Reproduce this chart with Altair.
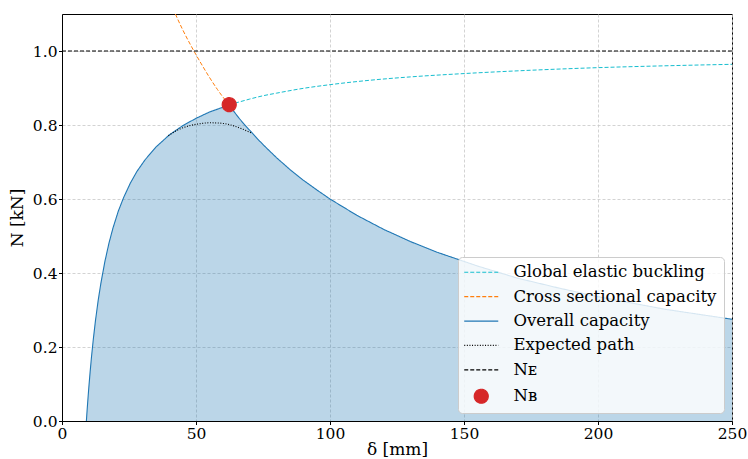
import altair as alt
import pandas as pd

# ---- values ----
series_names = ["Global elastic buckling", "Cross sectional capacity", "Overall capacity",
                "Expected path", "Nᴇ", "Nʙ"]

glob_d = [62.4, 66, 70, 75, 80, 90, 100, 115, 130, 150, 175, 200, 225, 250]
glob_n = [0.855, 0.862, 0.870, 0.879, 0.886, 0.899, 0.909, 0.921, 0.930, 0.939, 0.948, 0.955, 0.960, 0.964]

cross_d = [42.3, 45, 48, 50, 52, 55, 58, 60, 62.4]
cross_n = [1.100, 1.058, 1.016, 0.990, 0.965, 0.929, 0.896, 0.876, 0.855]

over_d = [9.1, 9.3, 9.6, 10, 10.5, 11, 11.7, 12.5, 13.5, 14.5, 16, 17.5, 19, 21, 23, 25.5, 28, 31,
          35, 40, 45, 50, 55, 60, 62.4, 64, 66, 68, 70, 73, 76, 80, 85, 90, 95, 100, 110, 120,
          130, 140, 155, 170, 185, 200, 225, 250]
over_n = [0.0, 0.022, 0.052, 0.090, 0.133, 0.173, 0.222, 0.272, 0.326, 0.372, 0.431, 0.480, 0.521,
          0.567, 0.604, 0.643, 0.675, 0.706, 0.740, 0.773, 0.798, 0.818, 0.835, 0.848, 0.855,
          0.838, 0.819, 0.802, 0.786, 0.762, 0.740, 0.712, 0.680, 0.651, 0.625, 0.600, 0.556,
          0.518, 0.485, 0.456, 0.419, 0.386, 0.360, 0.336, 0.302, 0.275]

exp_d = [39.7, 43, 47, 51, 55, 59, 63, 67, 70.8]
exp_n = [0.771, 0.786, 0.797, 0.803, 0.806, 0.805, 0.800, 0.790, 0.778]

ne_d = [0, 250]
ne_n = [1.0, 1.0]

nb_d = [62.4]
nb_n = [0.855]

x_ticks = [0, 50, 100, 150, 200, 250]
y_ticks = [0.0, 0.2, 0.4, 0.6, 0.8, 1.0]

colors = ["#17becf", "#ff7f0e", "#1f77b4", "#000000", "#000000", "#d62728"]
dashes = [[4, 2], [4, 2], [1, 0], [1, 1.6], [4, 2], [1, 0]]
widths = [1, 1, 1.1, 1.1, 1, 1]
line_sym = "M-2.43,0H2.43"
shapes = [line_sym, line_sym, line_sym, line_sym, line_sym, "circle"]


def frame(d, n, name):
    return pd.DataFrame({"delta": d, "N": n, "series": name})


frames = [
    frame(glob_d, glob_n, series_names[0]),
    frame(cross_d, cross_n, series_names[1]),
    frame(over_d, over_n, series_names[2]),
    frame(exp_d, exp_n, series_names[3]),
    frame(ne_d, ne_n, series_names[4]),
]
nb_df = frame(nb_d, nb_n, series_names[5])

FONT = "DejaVu Serif"

xs = alt.Scale(domain=[0, 250], nice=False)
ys = alt.Scale(domain=[0, 1.1], nice=False)
X = alt.X("delta:Q", scale=xs,
          axis=alt.Axis(values=x_ticks, format="d", title="δ [mm]"))
Y = alt.Y("N:Q", scale=ys,
          axis=alt.Axis(values=y_ticks, format=".1f", title="N [kN]"))

area = alt.Chart(frames[2]).mark_area(color="#1f77b4", opacity=0.3).encode(x=X, y=Y)

line_layers = []
for i, f in enumerate(frames):
    interp = "linear" if i == 2 else "monotone"
    line_layers.append(
        alt.Chart(f).mark_line(
            stroke=colors[i], strokeDash=dashes[i], strokeWidth=widths[i],
            interpolate=interp, clip=True,
        ).encode(x=X, y=Y)
    )

legend = alt.Legend(
    title=None, orient="bottom-right", offset=8,
    labelFont=FONT, labelFontSize=16.5, labelColor="#000", labelLimit=400,
    symbolSize=196, symbolStrokeWidth=1.2, symbolOffset=8, labelOffset=24,
    rowPadding=7.4, padding=7,
    fillColor="rgba(255,255,255,0.82)", strokeColor="#cccccc", cornerRadius=4,
    zindex=2,
)

points = alt.Chart(nb_df).mark_point(filled=True, size=196, strokeWidth=1.2, opacity=1).encode(
    x=X, y=Y,
    fill=alt.Fill("series:N", scale=alt.Scale(domain=series_names, range=colors), legend=legend),
    stroke=alt.Stroke("series:N", scale=alt.Scale(domain=series_names, range=colors), legend=legend),
    strokeDash=alt.StrokeDash("series:N", scale=alt.Scale(domain=series_names, range=dashes), legend=legend),
    shape=alt.Shape("series:N", scale=alt.Scale(domain=series_names, range=shapes), legend=legend),
)

chart = alt.layer(area, *line_layers, points).properties(
    width=670, height=407,
    autosize=alt.AutoSizeParams(type="none"),
    padding={"left": 62, "top": 14, "right": 16, "bottom": 38},
).configure_view(
    stroke="#000", strokeWidth=1,
).configure_axis(
    labelFont=FONT, labelFontSize=15.5, labelColor="#000",
    titleFont=FONT, titleFontSize=17, titleFontWeight="normal", titleColor="#000",
    domainColor="#000", domainWidth=1, tickColor="#000", tickSize=3.5, tickWidth=1,
    labelPadding=1.5,
    grid=True, gridColor="#c8c8c8", gridDash=[3, 2], gridWidth=0.8,
    zindex=1,
).configure_axisX(
    titlePadding=0, labelFlush=False,
).configure_axisY(
    titlePadding=6, labelFlush=False,
)

chart.save("out.html", embed_options={"renderer": "svg", "actions": False})
